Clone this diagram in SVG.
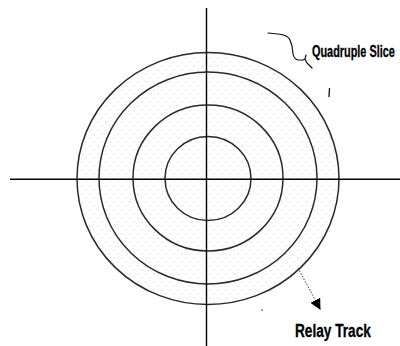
<svg xmlns="http://www.w3.org/2000/svg" width="400" height="346" viewBox="0 0 400 346">
  <style>
    .ring { fill: none; stroke: #2a2a2a; stroke-width: 1.5; }
    .axis { stroke: #000; stroke-width: 1.4; }
    .lbl { font-family: "Liberation Sans", Arial, sans-serif; font-weight: bold; fill: #000; stroke: #000; stroke-width: 0.3; }
    .pen { fill: none; stroke: #111; stroke-width: 1.2; stroke-linejoin: round; stroke-linecap: round; }
  </style>
  <defs>
    <pattern id="dots" x="0" y="0" width="8" height="8" patternUnits="userSpaceOnUse">
      <circle cx="2" cy="2" r="0.6" fill="#b8b8b8"/>
      <circle cx="6" cy="6" r="0.6" fill="#c4c4c4"/>
    </pattern>
    <marker id="arr" viewBox="0 0 10 10" refX="9" refY="5" markerWidth="11" markerHeight="11" orient="auto" markerUnits="userSpaceOnUse">
      <path d="M0,0 L10,5 L0,10 Z" fill="#000"/>
    </marker>
  </defs>
  <rect width="400" height="346" fill="#fff"/>

  <g id="disc">
    <ellipse cx="208" cy="178.5" rx="131" ry="126" fill="url(#dots)" stroke="none"/>
  </g>

  <g id="tracks">
    <ellipse id="ring4" class="ring" cx="208" cy="178.5" rx="131" ry="126"/>
    <ellipse id="ring3" class="ring" cx="208" cy="178" rx="109" ry="106"/>
    <ellipse id="ring2" class="ring" cx="208" cy="178" rx="75" ry="73"/>
    <ellipse id="ring1" class="ring" cx="208" cy="178.5" rx="43" ry="42"/>
  </g>

  <g id="axes">
    <line class="axis" x1="10" y1="179.3" x2="400" y2="179.3"/>
    <line class="axis" x1="206.5" y1="8" x2="206.5" y2="346"/>
  </g>

  <g id="connectors">
    <path class="pen" d="M268,33 L278,34 Q288,35 290,40 L292,46 L293,54 Q294,59 298,60 L303,60 L305,59 L306,55 M305,59 L307,63 L312,68"/>
    <line x1="329.5" y1="88" x2="329" y2="97" stroke="#111" stroke-width="1.3"/>
    <line x1="298" y1="268" x2="320" y2="309" stroke="#444" stroke-width="1" stroke-dasharray="1.5,1.5" marker-end="url(#arr)"/>
    <circle cx="262" cy="310" r="0.8" fill="#333"/>
  </g>

  <g id="label-quadruple" transform="translate(312,56.5) scale(0.68,1)">
    <text class="lbl" x="0" y="0" font-size="16">Quadruple Slice</text>
  </g>
  <g id="label-relay" transform="translate(295,337) scale(0.78,1)">
    <text class="lbl" x="0" y="0" font-size="17.5">Relay Track</text>
  </g>
</svg>
